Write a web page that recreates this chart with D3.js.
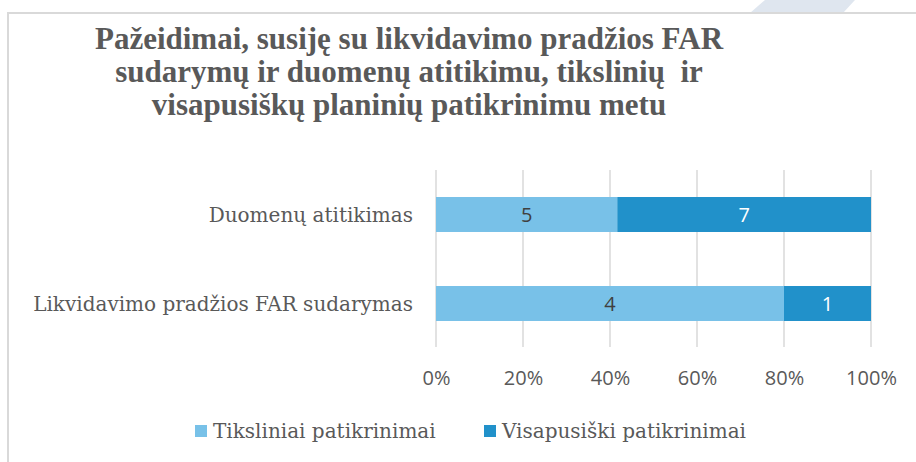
<!DOCTYPE html>
<html>
<head>
<meta charset="utf-8">
<script src="https://cdn.jsdelivr.net/npm/d3@7"></script>
<style>
  body { margin: 0; background: #fff; }
  svg { display: block; }
</style>
</head>
<body>
<svg width="916" height="462"></svg>
<script>
// data
var categories = ["Duomenų atitikimas", "Likvidavimo pradžios FAR sudarymas"];
var tiksliniai = [5, 4];
var visapusiski = [7, 1];
var seriesNames = ["Tiksliniai patikrinimai", "Visapusiški patikrinimai"];
var colors = ["#78c1e8", "#2191ca"];
var labelColors = ["#404040", "#ffffff"];
var tickValues = [0, 0.2, 0.4, 0.6, 0.8, 1];
var titleLines = [
  "Pažeidimai, susiję su likvidavimo pradžios FAR",
  "sudarymų ir duomenų atitikimu, tikslinių\u00a0 ir",
  "visapusiškų planinių patikrinimu metu"
];

var svg = d3.select('svg');
var width = +svg.attr('width');
var height = +svg.attr('height');

var titleFont = "'Liberation Serif', serif";
var serif = "'DejaVu Serif', serif";
var sans = "'Open Sans', sans-serif";

// page decoration + chart frame
svg.append('polygon')
  .attr('points', '765,0 855,0 843,13 750,13')
  .attr('fill', '#dfe6ef');
svg.append('rect')
  .attr('x', 8).attr('y', 13)
  .attr('width', width + 20).attr('height', height + 20)
  .attr('fill', '#fff')
  .attr('stroke', '#d9d9d9')
  .attr('stroke-width', 2);

// title
svg.append('text')
  .attr('text-anchor', 'middle')
  .attr('font-family', titleFont)
  .attr('font-weight', 'bold')
  .attr('font-size', 31)
  .attr('fill', '#595959')
  .selectAll('tspan')
  .data(titleLines)
  .enter().append('tspan')
  .attr('x', 409)
  .attr('y', function(d, i) { return 49 + i * 33; })
  .text(function(d) { return d; });

var x = d3.scaleLinear().domain([0, 1]).range([436, 871]);
var y = d3.scaleBand().domain(categories).range([170, 348])
  .paddingInner(0.607).paddingOuter(0.3035);

// gridlines
svg.append('g')
  .selectAll('line')
  .data(tickValues)
  .enter().append('line')
  .attr('x1', function(d) { return x(d); })
  .attr('x2', function(d) { return x(d); })
  .attr('y1', 170)
  .attr('y2', 347)
  .attr('stroke', '#d9d9d9')
  .attr('stroke-width', 1.5);

// x axis labels
var xAxis = svg.append('g')
  .attr('transform', 'translate(0,371)')
  .call(d3.axisBottom(x).tickValues(tickValues).tickFormat(d3.format('.0%')).tickSize(0).tickPadding(0));
xAxis.select('.domain').remove();
xAxis.selectAll('text')
  .attr('font-family', sans)
  .attr('font-size', 20)
  .attr('fill', '#595959');

// stacked, 100% bars
var rows = categories.map(function(c, i) {
  return { cat: c, t: tiksliniai[i], v: visapusiski[i] };
});
var stack = d3.stack().keys(['t', 'v']).offset(d3.stackOffsetExpand);
var series = stack(rows);

var groups = svg.selectAll('.series')
  .data(series)
  .enter().append('g')
  .attr('class', 'series');

groups.selectAll('rect')
  .data(function(d) { return d; })
  .enter().append('rect')
  .attr('x', function(d) { return x(d[0]); })
  .attr('y', function(d) { return y(d.data.cat); })
  .attr('width', function(d) { return x(d[1]) - x(d[0]); })
  .attr('height', y.bandwidth())
  .attr('fill', function(d) { return colors[d3.select(this.parentNode).datum().index]; });

groups.selectAll('text')
  .data(function(d) { return d.map(function(p) { return { p: p, key: d.key, idx: d.index }; }); })
  .enter().append('text')
  .attr('x', function(d) { return (x(d.p[0]) + x(d.p[1])) / 2; })
  .attr('y', function(d) { return y(d.p.data.cat) + y.bandwidth() / 2; })
  .attr('dy', '0.35em')
  .attr('text-anchor', 'middle')
  .attr('font-family', sans)
  .attr('font-size', 20)
  .attr('fill', function(d) { return labelColors[d.idx]; })
  .text(function(d) { return d.p.data[d.key]; });

// category labels
svg.append('g')
  .selectAll('text')
  .data(categories)
  .enter().append('text')
  .attr('x', 413)
  .attr('y', function(d) { return y(d) + y.bandwidth() / 2; })
  .attr('dy', '0.35em')
  .attr('text-anchor', 'end')
  .attr('font-family', serif)
  .attr('font-size', 20)
  .attr('fill', '#595959')
  .text(function(d) { return d; });

// legend
var legendX = [195, 484];
var legend = svg.selectAll('.legend')
  .data(seriesNames)
  .enter().append('g')
  .attr('class', 'legend')
  .attr('transform', function(d, i) { return 'translate(' + legendX[i] + ',425)'; });
legend.append('rect')
  .attr('width', 12).attr('height', 12)
  .attr('fill', function(d, i) { return colors[i]; });
legend.append('text')
  .attr('x', 18)
  .attr('y', 6)
  .attr('dy', '0.35em')
  .attr('font-family', serif)
  .attr('font-size', 20)
  .attr('fill', '#595959')
  .text(function(d) { return d; });
</script>
</body>
</html>
